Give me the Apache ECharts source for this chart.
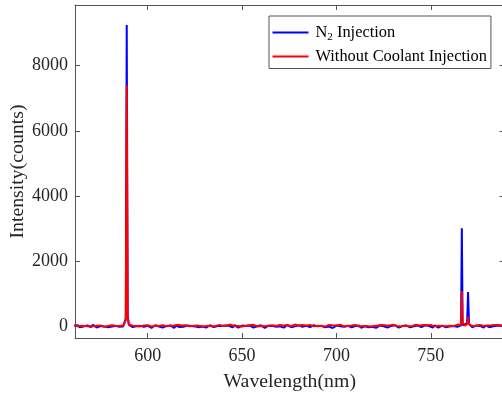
<!DOCTYPE html>
<html>
<head>
<meta charset="utf-8">
<script src="https://cdn.jsdelivr.net/npm/echarts@6/dist/echarts.min.js"></script>
<style>html,body{margin:0;padding:0;background:#fff;}#c{width:502px;height:394px;}</style>
</head>
<body>
<div id="c"></div>
<script>
// Wavelength (nm)
const wavelength = [
561,562,563,564,565,566,567,568,569,570,571,572,573,574,575,576,577,578,579,580,581,582,583,584,585,586,587,588,
588.4,588.9,589.4,
590,591,592,593,594,595,596,597,598,599,
600,601,602,603,604,605,606,607,608,609,
610,611,612,613,614,615,616,617,618,619,
620,621,622,623,624,625,626,627,628,629,
630,631,632,633,634,635,636,637,638,639,
640,641,642,643,644,645,646,647,648,649,
650,651,652,653,654,655,656,657,658,659,
660,661,662,663,664,665,666,667,668,669,
670,671,672,673,674,675,676,677,678,679,
680,681,682,683,684,685,686,687,688,689,
690,691,692,693,694,695,696,697,698,699,
700,701,702,703,704,705,706,707,708,709,
710,711,712,713,714,715,716,717,718,719,
720,721,722,723,724,725,726,727,728,729,
730,731,732,733,734,735,736,737,738,739,
740,741,742,743,744,745,746,747,748,749,
750,751,752,753,754,755,756,757,758,759,
760,761,762,763,764,765,766,
766.4,766.8,
767,768,
769.2,769.7,770.2,
771,772,773,774,775,776,777,778,779,780,781,782,783,784,785,786,787,788,789,790
];
// N2 Injection intensity (counts)
const n2Injection = [
30,10,45,-20,25,5,-35,40,15,-10,55,0,-25,35,20,-40,10,30,-15,45,5,-30,25,15,-5,40,10,20,
250,9250,350,
60,20,-10,35,15,-30,25,40,0,-20,
30,10,-40,20,45,-15,5,35,-25,15,
25,-5,40,10,-35,30,20,-10,45,0,
-20,35,15,25,-30,10,40,-15,20,5,
30,-25,15,45,0,-10,35,20,-40,25,
10,40,-5,30,15,-20,50,5,-30,20,
35,0,25,-15,40,10,-25,30,15,-5,
45,20,-35,10,30,-10,25,40,0,-20,
15,35,-30,20,50,5,-15,30,10,-25,
40,15,0,-35,25,35,-10,20,45,-5,
10,-30,30,15,-20,40,5,25,-40,20,
35,-10,15,45,0,-25,30,10,-15,40,
20,-5,35,-30,25,10,45,-20,15,0,
30,-35,20,40,-10,15,35,-25,5,25,
-15,45,10,-30,30,20,-5,40,0,-20,
25,15,-40,35,10,-15,30,45,-10,20,
5,-25,40,15,-30,25,35,0,-20,30,
10,-35,20,45,-5,15,40,
3020,150,
40,20,
120,1060,90,
30,-20,15,40,-10,25,5,-30,35,20,-15,45,10,-25,30,0,40,-5,20,15
];
// Without Coolant Injection intensity (counts)
const withoutCoolant = [
40,25,15,50,30,-10,20,45,5,35,15,-15,30,10,40,20,-5,35,25,10,45,15,30,-10,25,20,35,30,
200,7400,300,
80,45,30,50,20,40,10,55,35,15,
45,25,5,40,30,55,20,10,45,35,
15,50,30,0,40,25,60,20,35,10,
45,30,15,50,25,5,40,55,20,35,
10,45,30,60,15,40,25,0,50,35,
20,55,35,10,65,30,15,45,25,40,
5,50,30,20,45,15,60,35,10,40,
25,55,15,40,30,0,45,60,20,35,
50,10,40,25,55,30,15,45,65,20,
35,5,50,30,40,15,55,25,10,45,
30,50,20,40,5,35,55,15,45,25,
40,20,60,30,10,45,25,50,35,15,
55,30,5,40,25,60,20,45,10,35,
25,50,35,15,55,30,45,5,40,20,
60,35,25,50,10,40,30,55,20,45,
15,40,60,25,35,5,50,30,45,20,
55,35,10,45,30,60,25,40,15,50,
30,55,20,45,65,35,50,
1090,120,
60,35,
80,300,70,
45,25,55,30,10,50,35,20,60,40,15,45,30,55,25,50,35,10,45,30
];
const xTicks = [600, 650, 700, 750];
const yTicks = [0, 2000, 4000, 6000, 8000];
const seriesNames = ['N2 Injection', 'Without Coolant Injection'];

const font = 'Liberation Serif';
const axisColor = '#555';
const textColor = '#262626';
const xMin = 561.5, xMax = 789, yMin = -346, yMax = 9860;

const chart = echarts.init(document.getElementById('c'), null, {renderer: 'canvas'});
const pairs = arr => wavelength.map((w, i) => [w, arr[i]]);
const plain = v => String(v);

const baseX = {
  type: 'value', min: xMin, max: xMax,
  axisLine: {show: true, onZero: false, lineStyle: {color: axisColor, width: 1}},
  axisTick: {show: true, inside: true, length: 5, customValues: xTicks, lineStyle: {color: axisColor}},
  splitLine: {show: false}
};
const baseY = {
  type: 'value', min: yMin, max: yMax,
  axisLine: {show: true, onZero: false, lineStyle: {color: axisColor, width: 1}},
  axisTick: {show: true, inside: true, length: 5, customValues: yTicks, lineStyle: {color: axisColor}},
  splitLine: {show: false}
};

chart.setOption({
  animation: false,
  backgroundColor: '#fff',
  grid: {left: 75, top: 5, width: 429.5, height: 333, containLabel: false, outerBoundsMode: 'none'},
  xAxis: [
    Object.assign({}, baseX, {
      position: 'bottom',
      name: 'Wavelength(nm)', nameLocation: 'middle', nameGap: 34, nameMoveOverlap: false,
      nameTextStyle: {fontFamily: font, fontSize: 19.8, color: textColor},
      axisLabel: {show: true, customValues: xTicks, formatter: plain, margin: 9, fontFamily: font, fontSize: 18, color: textColor}
    }),
    Object.assign({}, baseX, {position: 'top', axisLabel: {show: false}})
  ],
  yAxis: [
    Object.assign({}, baseY, {
      position: 'left',
      name: 'Intensity(counts)', nameLocation: 'middle', nameGap: 47, nameMoveOverlap: false,
      nameTextStyle: {fontFamily: font, fontSize: 19.8, color: textColor},
      axisLabel: {show: true, customValues: yTicks, formatter: plain, margin: 7, fontFamily: font, fontSize: 18, color: textColor}
    }),
    Object.assign({}, baseY, {position: 'right', axisLabel: {show: false}})
  ],
  legend: {
    orient: 'vertical', left: 269, top: 16,
    data: seriesNames,
    backgroundColor: '#fff', borderColor: axisColor, borderWidth: 1,
    padding: [6.5, 4, 2, 3.5], itemGap: 4,
    icon: 'rect', itemWidth: 36, itemHeight: 2,
    textStyle: {fontFamily: font, fontSize: 16.4, color: '#000', lineHeight: 20, padding: [0, 0, 0, 2],
      rich: {
        t: {fontFamily: font, fontSize: 16.4, color: '#000', lineHeight: 20},
        s: {fontFamily: font, fontSize: 11, color: '#000', lineHeight: 20, verticalAlign: 'bottom'}
      }
    },
    formatter: name => name === 'N2 Injection' ? '{t|N}{s|2}{t| Injection}' : '{t|' + name + '}'
  },
  series: [
    {name: seriesNames[0], type: 'line', data: pairs(n2Injection), symbol: 'none',
     lineStyle: {color: '#0000ff', width: 2}, itemStyle: {color: '#0000ff'}, clip: true},
    {name: seriesNames[1], type: 'line', data: pairs(withoutCoolant), symbol: 'none',
     lineStyle: {color: '#ff0000', width: 2}, itemStyle: {color: '#ff0000'}, clip: true}
  ]
});
</script>
</body>
</html>
